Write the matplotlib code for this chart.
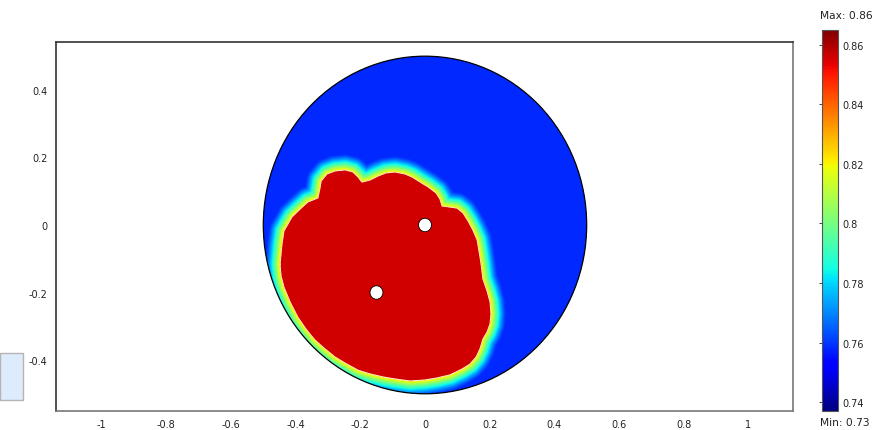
import numpy as np
import matplotlib
matplotlib.use('Agg')
import matplotlib.pyplot as plt
from matplotlib.path import Path
from matplotlib.patches import Rectangle, Circle

# ---- data ----
blob_x = [-0.448, -0.442, -0.436, -0.411, -0.386, -0.362, -0.331, -0.325, -0.321, -0.303,
          -0.278, -0.247, -0.223, -0.207, -0.195, -0.170, -0.145, -0.121, -0.093, -0.062,
          -0.040, -0.015, 0.009, 0.034, 0.046, 0.053, 0.077, 0.099, 0.117, 0.133,
          0.148, 0.161, 0.167, 0.173, 0.179, 0.192, 0.201, 0.204, 0.201, 0.192,
          0.179, 0.170, 0.158, 0.139, 0.114, 0.077, 0.037, 0.000, -0.046, -0.093,
          -0.130, -0.170, -0.207, -0.247, -0.278, -0.309, -0.340, -0.368, -0.393, -0.417,
          -0.436, -0.445]
blob_y = [-0.116, -0.056, -0.018, 0.024, 0.047, 0.068, 0.080, 0.107, 0.130, 0.151,
          0.160, 0.163, 0.157, 0.142, 0.127, 0.133, 0.145, 0.154, 0.157, 0.151,
          0.142, 0.127, 0.113, 0.095, 0.077, 0.056, 0.053, 0.050, 0.036, 0.012,
          -0.015, -0.044, -0.077, -0.113, -0.160, -0.196, -0.228, -0.264, -0.293, -0.317,
          -0.338, -0.367, -0.391, -0.412, -0.427, -0.444, -0.453, -0.459, -0.462, -0.456,
          -0.450, -0.441, -0.430, -0.409, -0.391, -0.367, -0.341, -0.308, -0.273, -0.228,
          -0.184, -0.151]
hole_x = [0.0, -0.15]
hole_y = [0.0, -0.2]
hole_r = 0.02
domain_r = 0.5
val_inside = 0.856
val_edge = 0.824
val_bg = 0.758
band_width = 0.048
vmin, vmax = 0.737, 0.865
cbar_ticks = [0.74, 0.76, 0.78, 0.80, 0.82, 0.84, 0.86]
cbar_labels = ['0.74', '0.76', '0.78', '0.8', '0.82', '0.84', '0.86']
xticks = [-1, -0.8, -0.6, -0.4, -0.2, 0, 0.2, 0.4, 0.6, 0.8, 1]
xlabels = ['-1', '-0.8', '-0.6', '-0.4', '-0.2', '0', '0.2', '0.4', '0.6', '0.8', '1']
yticks = [-0.4, -0.2, 0, 0.2, 0.4]
ylabels = ['-0.4', '-0.2', '0', '0.2', '0.4']
max_text = 'Max: 0.86'
min_text = 'Min: 0.73'

# ---- field from the traced boundary ----
n = 700
xs = np.linspace(-domain_r, domain_r, n)
X, Y = np.meshgrid(xs, xs)
px = np.array(blob_x + [blob_x[0]])
py = np.array(blob_y + [blob_y[0]])
d = np.full(X.shape, np.inf)
for i in range(len(px) - 1):
    ax_, ay_ = px[i], py[i]
    dx, dy = px[i + 1] - ax_, py[i + 1] - ay_
    t = np.clip(((X - ax_) * dx + (Y - ay_) * dy) / (dx * dx + dy * dy), 0, 1)
    d = np.minimum(d, np.hypot(X - ax_ - t * dx, Y - ay_ - t * dy))
inside = Path(np.column_stack([px, py])).contains_points(
    np.column_stack([X.ravel(), Y.ravel()])).reshape(X.shape)
s = np.clip(d / band_width, 0, 1)
field = np.where(inside, val_inside, val_bg + (val_edge - val_bg) * (1 - s) ** 1.3)

# ---- figure ----
W, H = 883, 431
fig = plt.figure(figsize=(W / 100, H / 100), dpi=100)
ax = fig.add_axes([56 / W, (H - 412) / H, (793 - 56) / W, (412 - 43) / H])
im = ax.imshow(field, extent=[-domain_r, domain_r, -domain_r, domain_r], origin='lower',
               cmap='jet', vmin=vmin, vmax=vmax, interpolation='bilinear', aspect='auto')
clip = Circle((0, 0), domain_r, transform=ax.transData)
im.set_clip_path(clip)
ax.plot(px, py, color='#fffbe6', lw=0.7, alpha=0.9)
ax.add_patch(Circle((0, 0), domain_r, fill=False, ec='black', lw=0.9))
for hx, hy in zip(hole_x, hole_y):
    ax.add_patch(Circle((hx, hy), hole_r, fc='white', ec='black', lw=0.6, zorder=5))

ax.set_xlim(-1.141, 1.138)
ax.set_ylim(-0.551, 0.542)
ax.set_xticks(xticks)
ax.set_xticklabels(xlabels)
ax.set_yticks(yticks)
ax.set_yticklabels(ylabels)
ax.tick_params(length=0, labelsize=7, colors='#222222', pad=6)
for name, sp in ax.spines.items():
    sp.set_color('#333333' if name in ('top', 'left') else '#777777')
    sp.set_linewidth(1.2)

# colorbar
cax = fig.add_axes([822 / W, (H - 412) / H, 16 / W, (412 - 31) / H])
cb = fig.colorbar(im, cax=cax)
cb.set_ticks(cbar_ticks)
cb.set_ticklabels(cbar_labels)
cax.tick_params(left=True, right=False, labelleft=False, labelright=True,
                length=2, width=0.6, direction='out', labelsize=7, colors='#222222', pad=1)
cb.outline.set_edgecolor('#555555')
cb.outline.set_linewidth(0.8)
fig.text(820 / W, 1 - 16 / H, max_text, fontsize=7.7, color='#222222', va='center', ha='left')
fig.text(820 / W, 1 - 423 / H, min_text, fontsize=7.7, color='#222222', va='center', ha='left')

# left-edge light box (screenshot artifact)
fig.patches.append(Rectangle((0, (H - 401) / H), 23 / W, 47 / H, transform=fig.transFigure,
                             fc='#dcecfc', ec='#b4b4b4', lw=1.0, figure=fig))

fig.savefig('out.png', dpi=100)
